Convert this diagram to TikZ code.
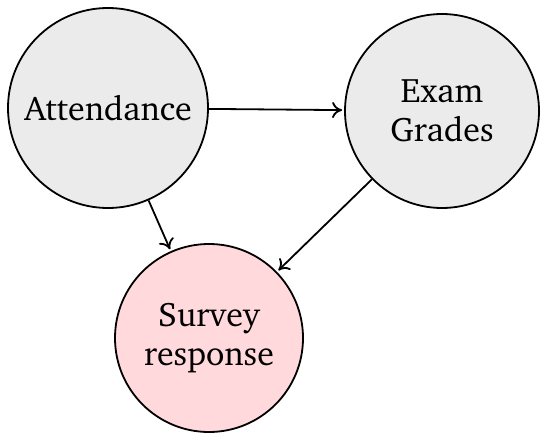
\documentclass[tikz,border=0pt]{standalone}
\usepackage[T1]{fontenc}
\usepackage{charter}
\usepackage{xcolor}
\usepackage{tikz}
\usetikzlibrary{positioning,arrows.meta}
\definecolor{NodeGray}{RGB}{235,235,235}
\definecolor{NodePink}{RGB}{255,217,220}

\begin{document}
\begin{tikzpicture}[x=1pt,y=1pt,font=\fontsize{17}{19.5}\selectfont,
  var/.style={circle,draw,line width=0.9pt,fill=NodeGray,align=center,inner sep=2pt},
  outcome/.style={var,fill=NodePink},
  link/.style={line width=0.9pt,shorten >=1pt,-{To[length=5pt,width=8pt]}}]
\useasboundingbox (0,0) rectangle (272.5,-221.5);
\node[var,minimum size=100pt] (att) at (54,-54) {Attendance};
\node[var,minimum size=97pt] (exam) at (221,-55.5) {Exam\\Grades};
\node[outcome,minimum size=94pt] (surv) at (104.5,-169) {Survey\\response};
\draw[link] (att) -- (exam);
\draw[link] (att) -- (surv);
\draw[link] (exam) -- (surv);
\end{tikzpicture}
\end{document}
